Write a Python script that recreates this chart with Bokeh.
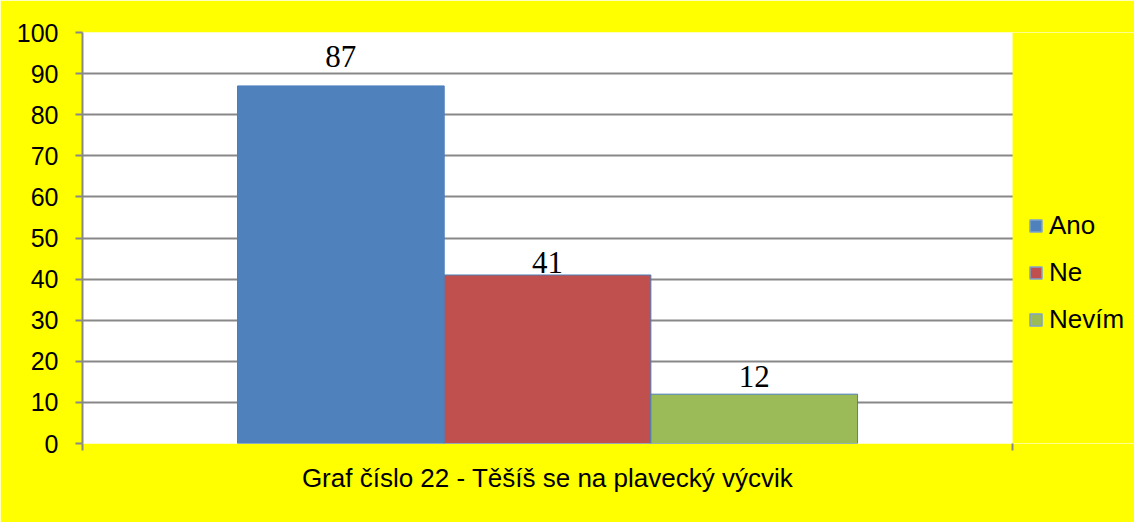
from bokeh.plotting import figure
from bokeh.models import (Range1d, FixedTicker, Legend, LegendItem, ColumnDataSource,
                          LabelSet, BoxAnnotation)
from bokeh.embed import file_html
from bokeh.resources import INLINE

series = ["Ano", "Ne", "Nevím"]
values = [87, 41, 12]
colors = ["#4F81BD", "#C0504D", "#9BBB59"]
category = "Graf číslo 22 - Těšíš se na plavecký výcvik"
y_ticks = [0, 10, 20, 30, 40, 50, 60, 70, 80, 90, 100]

# styling: vertical offsets (px) of the value labels above the bars
label_offset_px = [19, 2, 7]

positions = [1.25 + i for i in range(len(series))]
x_end = 4.5          # end of the plotting area
x_total = 5.09       # includes the legend zone on the right

p = figure(width=1134, height=522, output_backend="svg", toolbar_location=None,
           x_range=Range1d(0, x_total), y_range=Range1d(0, 100),
           min_border_left=82, min_border_right=0, min_border_top=32, min_border_bottom=79)
p.background_fill_color = "white"
p.border_fill_color = "#FFFF00"
p.outline_line_color = None

src = ColumnDataSource(dict(x=positions, top=values, color=colors, name=series,
                            lbl=[str(v) for v in values], off=label_offset_px))
p.vbar(x="x", top="top", width=1.0, bottom=0, fill_color="color", line_color="#4A7EBB",
       line_width=1, source=src)

labels = LabelSet(x="x", y="top", text="lbl", source=src, text_align="center",
                  text_baseline="alphabetic", y_offset="off", text_font="Liberation Serif",
                  text_font_size="31px", text_color="black")
p.add_layout(labels)

# yellow zone right of the plotting area (legend area)
p.add_layout(BoxAnnotation(left=x_end, fill_color="#FFFF00", fill_alpha=1.0,
                           line_color=None, level="underlay"))

# y axis
p.yaxis.ticker = FixedTicker(ticks=y_ticks)
p.yaxis.axis_line_color = "#888888"
p.yaxis.axis_line_width = 2
p.yaxis.major_tick_line_color = "#888888"
p.yaxis.major_tick_line_width = 2
p.yaxis.major_tick_out = 7
p.yaxis.major_tick_in = 0
p.yaxis.minor_tick_line_color = None
p.yaxis.major_label_text_font = "Liberation Sans"
p.yaxis.major_label_text_font_size = "25px"
p.yaxis.major_label_text_color = "black"
p.yaxis.major_label_standoff = 17

# x axis (axis line drawn by the 0 gridline)
p.xaxis.ticker = FixedTicker(ticks=[2.25], minor_ticks=[0, x_end])
p.xaxis.major_label_overrides = {2.25: category}
p.xaxis.axis_line_color = None
p.xaxis.major_tick_line_color = None
p.xaxis.major_tick_out = 0
p.xaxis.minor_tick_line_color = "#888888"
p.xaxis.minor_tick_line_width = 2
p.xaxis.minor_tick_out = 7
p.xaxis.minor_tick_in = 0
p.xaxis.major_label_text_font = "Liberation Sans"
p.xaxis.major_label_text_font_size = "26px"
p.xaxis.major_label_text_color = "black"
p.xaxis.major_label_standoff = 12

p.xgrid.grid_line_color = None
p.ygrid.grid_line_color = "#888888"
p.ygrid.grid_line_width = 2
p.ygrid.bounds = (0, 100)

# legend (proxy renderers placed outside the visible range)
items = []
for i, s in enumerate(series):
    rr = p.quad(left=[positions[i]], right=[positions[i] + 0.1], bottom=[-60], top=[-50],
                fill_color=colors[i], line_color="#7fa3d0", line_width=1.5)
    items.append(LegendItem(label=s, renderers=[rr]))
legend = Legend(items=items, location=(946, 108), background_fill_alpha=0, border_line_color=None,
                label_text_font="Liberation Sans", label_text_font_size="26px",
                label_text_color="black",
                glyph_width=15, glyph_height=15, label_height=30, spacing=16,
                padding=0, margin=0, label_standoff=6)
p.add_layout(legend, "center")

open("out.html", "w").write(file_html(p, INLINE))
